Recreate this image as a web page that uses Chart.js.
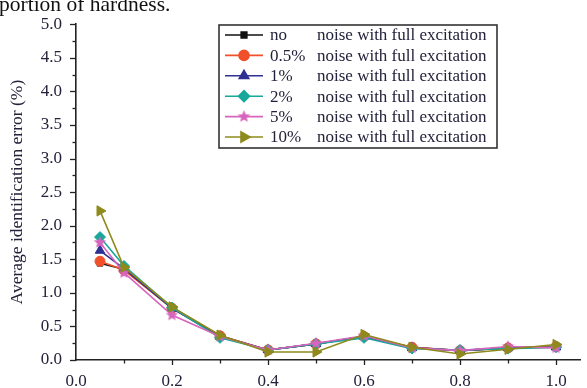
<!DOCTYPE html>
<html>
<head>
<meta charset="utf-8">
<script src="https://cdn.jsdelivr.net/npm/chart.js@4.4.0/dist/chart.umd.min.js"></script>
<style>
  body { margin: 0; background: #fff; }
  #wrap { position: relative; width: 587px; height: 388px; overflow: hidden; }
  #caption { position: absolute; left: -1px; top: -7px; font: 21.5px/22px "Liberation Serif", serif; color: #111; white-space: nowrap; }
  canvas { position: absolute; left: 0; top: 0; }
</style>
</head>
<body>
<div id="wrap">
  <canvas id="chart" width="587" height="388"></canvas>
  <div id="caption">portion of hardness.</div>
</div>
<script>
// excitation ratio on the x axis
const ratios = [0.05, 0.1, 0.2, 0.3, 0.4, 0.5, 0.6, 0.7, 0.8, 0.9, 1.0];

// average identification error (%) per noise level
const errNone  = [1.44, 1.35, 0.78, 0.36, 0.15, 0.24, 0.35, 0.19, 0.14, 0.18, 0.20];
const errHalf  = [1.47, 1.34, 0.77, 0.36, 0.15, 0.24, 0.35, 0.19, 0.14, 0.18, 0.20];
const errOne   = [1.63, 1.36, 0.77, 0.35, 0.15, 0.24, 0.35, 0.18, 0.14, 0.18, 0.19];
const errTwo   = [1.83, 1.40, 0.78, 0.33, 0.15, 0.24, 0.33, 0.17, 0.15, 0.17, 0.19];
const errFive  = [1.75, 1.30, 0.67, 0.35, 0.15, 0.25, 0.36, 0.18, 0.14, 0.20, 0.18];
const errTen   = [2.22, 1.38, 0.79, 0.37, 0.12, 0.12, 0.38, 0.19, 0.09, 0.16, 0.23];

const noiseLevels = ['no', '0.5%', '1%', '2%', '5%', '10%'];
const noiseSuffix = 'noise with full excitation';
const xTicks = [0.0, 0.2, 0.4, 0.6, 0.8, 1.0];
const yTicks = [0.0, 0.5, 1.0, 1.5, 2.0, 2.5, 3.0, 3.5, 4.0, 4.5, 5.0];

const FONT = '"Liberation Serif", "Times New Roman", serif';
const TEXT = '#23223a';

// filled five-point star marker
function starImage(color, r) {
  const c = document.createElement('canvas');
  const s = Math.ceil(r * 2 + 2);
  c.width = s; c.height = s;
  const g = c.getContext('2d');
  g.beginPath();
  for (let i = 0; i < 10; i++) {
    const rad = i % 2 === 0 ? r : r * 0.45;
    const a = -Math.PI / 2 + i * Math.PI / 5;
    g.lineTo(s / 2 + rad * Math.cos(a), s / 2 + rad * Math.sin(a));
  }
  g.closePath();
  g.fillStyle = color;
  g.fill();
  return c;
}

const styles = [
  { color: '#111111', point: 'rect', radius: 4, rotation: 0 },
  { color: '#f0502a', point: 'circle', radius: 5, rotation: 0 },
  { color: '#2e3192', point: 'triangle', radius: 5.5, rotation: 0 },
  { color: '#17a89a', point: 'rectRot', radius: 5.5, rotation: 0 },
  { color: '#d865bd', point: starImage('#d865bd', 6.5), radius: 6, rotation: 0 },
  { color: '#8e8a1c', point: 'triangle', radius: 6, rotation: 90 }
];

const series = [errNone, errHalf, errOne, errTwo, errFive, errTen];

const datasets = series.map((vals, i) => ({
  label: noiseLevels[i] + ' ' + noiseSuffix,
  data: vals.map((v, j) => ({ x: ratios[j], y: v })),
  borderColor: styles[i].color,
  backgroundColor: styles[i].color,
  borderWidth: 1.6,
  pointStyle: styles[i].point,
  pointRadius: styles[i].radius,
  pointRotation: styles[i].rotation,
  pointBorderWidth: 1,
  order: series.length - i
}));

// outward major/minor tick marks on both axes
const tickMarks = {
  id: 'tickMarks',
  afterDraw(chart) {
    const ctx = chart.ctx;
    const xs = chart.scales.x, ys = chart.scales.y;
    ctx.save();
    ctx.strokeStyle = '#222';
    ctx.lineWidth = 1.3;
    for (let k = 0; k <= 20; k++) {
      const v = k * 0.25;
      const py = Math.round(ys.getPixelForValue(v)) + 0.5;
      const len = k % 2 === 0 ? 6 : 3.5;
      ctx.beginPath();
      ctx.moveTo(ys.right, py);
      ctx.lineTo(ys.right - len, py);
      ctx.stroke();
    }
    for (let k = 1; k <= 10; k++) {
      const px = Math.round(xs.getPixelForValue(k / 10)) + 0.5;
      const len = k % 2 === 0 ? 5 : 3.5;
      ctx.beginPath();
      ctx.moveTo(px, xs.top);
      ctx.lineTo(px, xs.top + len);
      ctx.stroke();
    }
    ctx.restore();
  }
};

// boxed legend in the upper right of the plot
const boxLegend = {
  id: 'boxLegend',
  afterDraw(chart) {
    const ctx = chart.ctx;
    const left = 219, top = 25, w = 278, h = 123;
    const rowH = 20.4, firstRow = 35;
    ctx.save();
    ctx.fillStyle = '#fff';
    ctx.fillRect(left, top, w, h);
    ctx.strokeStyle = '#333';
    ctx.lineWidth = 1.6;
    ctx.strokeRect(left, top, w, h);
    ctx.font = '17px ' + FONT;
    ctx.textBaseline = 'middle';
    chart.data.datasets.forEach((ds, i) => {
      const y = firstRow + i * rowH;
      ctx.strokeStyle = ds.borderColor;
      ctx.lineWidth = 1.6;
      ctx.beginPath();
      ctx.moveTo(225, y);
      ctx.lineTo(263, y);
      ctx.stroke();
      ctx.fillStyle = ds.backgroundColor;
      Chart.helpers.drawPoint(ctx, {
        pointStyle: ds.pointStyle,
        radius: ds.pointRadius,
        rotation: ds.pointRotation,
        borderWidth: 1
      }, 244, y);
      ctx.fillStyle = TEXT;
      ctx.fillText(noiseLevels[i], 270, y + 1);
      ctx.fillText(noiseSuffix, 317, y + 1);
    });
    ctx.restore();
  }
};

const chart = new Chart(document.getElementById('chart').getContext('2d'), {
  type: 'line',
  data: { datasets },
  options: {
    responsive: false,
    animation: false,
    layout: { padding: { top: 16, right: 1, left: 0, bottom: 0 } },
    plugins: { legend: { display: false }, tooltip: { enabled: false } },
    scales: {
      x: {
        type: 'linear',
        min: 0,
        max: 1.05,
        afterBuildTicks: s => { s.ticks = xTicks.map(v => ({ value: v })); },
        afterFit: s => { s.height = 28; },
        grid: { display: false, drawTicks: false },
        border: { display: true, color: '#222', width: 1.6 },
        ticks: {
          padding: 11,
          color: TEXT,
          font: { family: FONT, size: 17 },
          callback: v => v.toFixed(1)
        }
      },
      y: {
        min: 0,
        max: 5,
        afterBuildTicks: s => { s.ticks = yTicks.map(v => ({ value: v })); },
        afterFit: s => { s.width = 76; },
        grid: { display: false, drawTicks: false },
        border: { display: true, color: '#222', width: 1.6 },
        ticks: {
          padding: 14,
          color: TEXT,
          font: { family: FONT, size: 17 },
          callback: v => v.toFixed(1)
        },
        title: {
          display: true,
          text: 'Average identification error (%)',
          color: TEXT,
          font: { family: FONT, size: 17.5 },
          padding: { top: 7, bottom: 0 }
        }
      }
    }
  },
  plugins: [tickMarks, boxLegend]
});
</script>
</body>
</html>
